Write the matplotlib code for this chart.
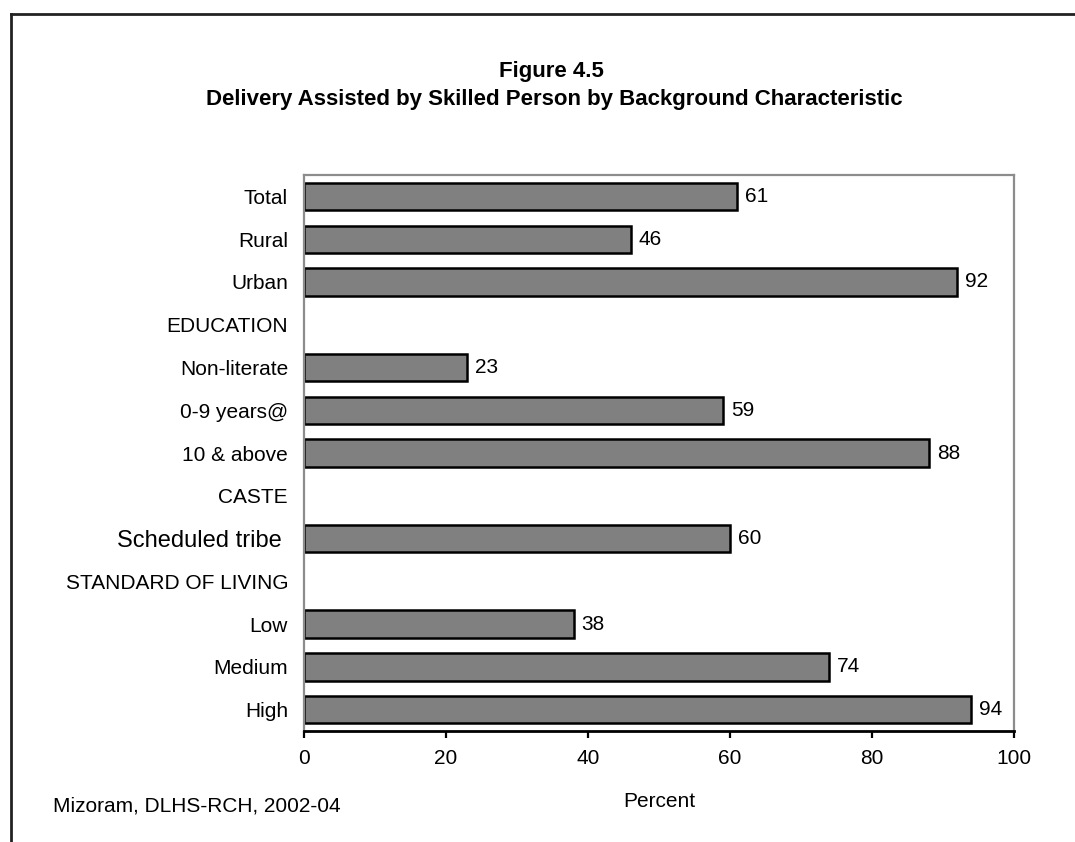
import matplotlib.pyplot as plt
from matplotlib.lines import Line2D

plt.rcParams['font.family'] = ['Liberation Sans', 'DejaVu Sans']

# rows top to bottom; None marks a group heading with no bar
categories = ['Total', 'Rural', 'Urban', 'EDUCATION', 'Non-literate', '0-9 years@',
              '10 & above', 'CASTE', 'Scheduled tribe ', 'STANDARD OF LIVING',
              'Low', 'Medium', 'High']
values = [61, 46, 92, None, 23, 59, 88, None, 60, None, 38, 74, 94]
x_ticks = [0, 20, 40, 60, 80, 100]

fig = plt.figure(figsize=(10.75, 8.42), dpi=100)
ax = fig.add_axes([0.2828, 0.1318, 0.6605, 0.6603])

n = len(categories)
ypos = list(range(n))
for y, v in zip(ypos, values):
    if v is None:
        continue
    ax.barh(y, v, height=0.64, color='#808080', edgecolor='black', linewidth=1.8)
    ax.text(v + 1.1, y, str(v), va='center', ha='left', fontsize=15)

ax.set_ylim(n - 0.5, -0.5)
ax.set_xlim(0, 100)
ax.set_yticks(ypos)
ax.set_yticklabels(categories, fontsize=15)
for lbl in ax.get_yticklabels():
    if lbl.get_text().startswith('Scheduled'):
        lbl.set_fontsize(17)
ax.tick_params(axis='y', length=0, pad=11.5)
ax.set_xticks(x_ticks)
ax.set_xticklabels([str(t) for t in x_ticks], fontsize=15)
ax.tick_params(axis='x', direction='out', length=5, width=1.6, color='black', pad=8)
ax.set_xlabel('Percent', fontsize=15, labelpad=17)

for side in ['top', 'left', 'right']:
    ax.spines[side].set_color('#8c8c8c')
    ax.spines[side].set_linewidth(1.6)
ax.spines['bottom'].set_color('black')
ax.spines['bottom'].set_linewidth(2)

fig.text(551 / 1075, 1 - 71 / 842, 'Figure 4.5', ha='center', va='center',
         fontsize=16, fontweight='bold')
fig.text(554 / 1075, 1 - 100 / 842,
         'Delivery Assisted by Skilled Person by Background Characteristic',
         ha='center', va='center', fontsize=16, fontweight='bold')
fig.text(53 / 1075, 1 - 806 / 842, 'Mizoram, DLHS-RCH, 2002-04', ha='left',
         va='center', fontsize=15)

# outer frame (top and left edges)
fig.add_artist(Line2D([11 / 1075, 1.0], [1 - 14 / 842, 1 - 14 / 842],
                      transform=fig.transFigure, color='#222222', linewidth=2))
fig.add_artist(Line2D([11 / 1075, 11 / 1075], [0.0, 1 - 14 / 842],
                      transform=fig.transFigure, color='#222222', linewidth=2))

fig.savefig('out.png', dpi=100)
